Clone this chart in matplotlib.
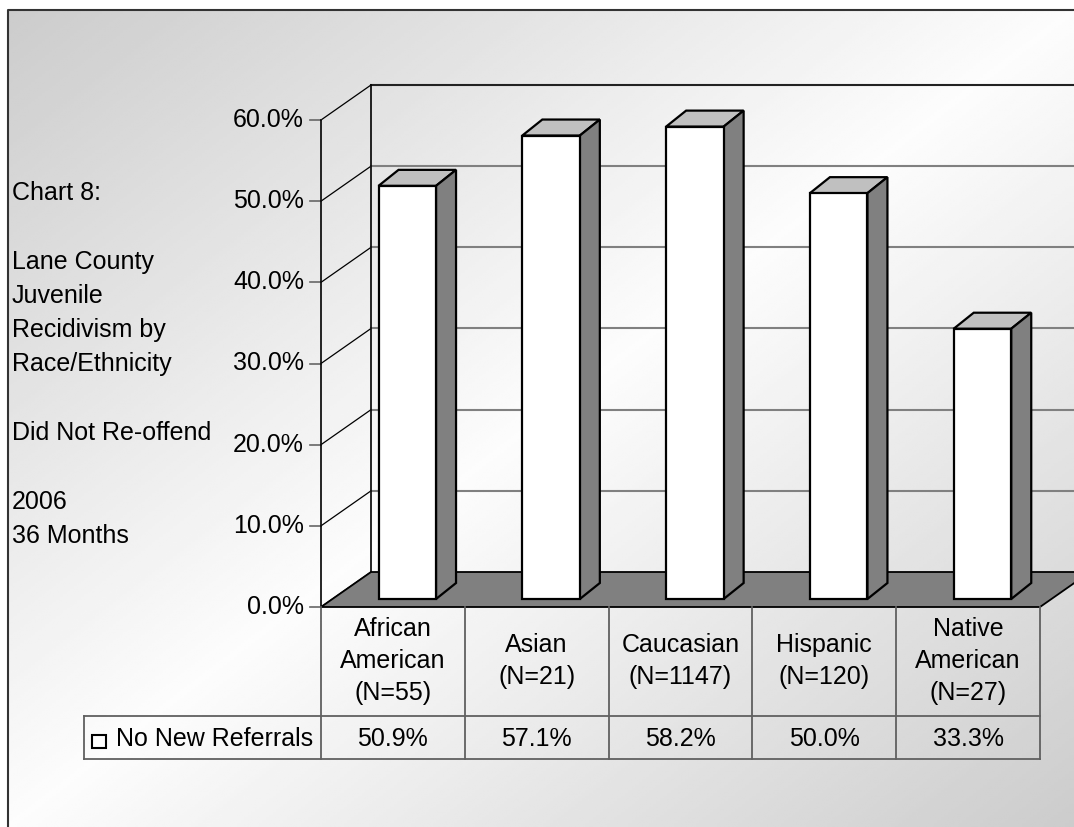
import numpy as np
import matplotlib.pyplot as plt
from matplotlib.patches import Polygon, Rectangle

plt.rcParams['font.family'] = ['Liberation Sans', 'DejaVu Sans']

categories = ['African\nAmerican\n(N=55)', 'Asian\n(N=21)', 'Caucasian\n(N=1147)',
              'Hispanic\n(N=120)', 'Native\nAmerican\n(N=27)']
values = [50.9, 57.1, 58.2, 50.0, 33.3]
value_labels = ['50.9%', '57.1%', '58.2%', '50.0%', '33.3%']
yticks = [0, 10, 20, 30, 40, 50, 60]
series_name = 'No New Referrals'
side_text = ['Chart 8:', '', 'Lane County', 'Juvenile', 'Recidivism by',
             'Race/Ethnicity', '', 'Did Not Re-offend', '', '2006', '36 Months']

W, H = 1074, 827
fig = plt.figure(figsize=(W / 100, H / 100), dpi=100)
fig.patch.set_facecolor('white')

# background with diagonal gradient and frame
bg = fig.add_axes([0, 0, 1, 1])
bg.set_xlim(0, W)
bg.set_ylim(H, 0)
bg.axis('off')
xx, yy = np.meshgrid(np.linspace(0, 1, 300), np.linspace(0, 1, 300))
t = (xx + yy) / 2
shade = 0.99 - 0.19 * np.abs(2 * t - 1)
bg.imshow(shade, cmap='gray', vmin=0, vmax=1, extent=[8, W, H, 10],
          aspect='auto', interpolation='bilinear', zorder=0)
bg.plot([8, 8, W], [H, 10, 10], color='#333333', lw=1.5, zorder=1)

fs = 18
for k, line in enumerate(side_text):
    if line:
        bg.text(12, 193 + 34.3 * k, line, fontsize=fs, ha='left', va='center')

# legend key in table
bg.add_patch(Rectangle((92, 735), 14, 13, facecolor='white', edgecolor='black', lw=1.5, zorder=3))
bg.text(116, 739, series_name, fontsize=fs, ha='left', va='center')

# main plot axes (front plane)
ax = fig.add_axes([321 / W, 1 - 607 / H, (1040 - 321) / W, (607 - 120) / H])
ax.set_xlim(0, 5)
ax.set_ylim(0, 60)
ax.axis('off')
ax.patch.set_visible(False)

px_x = (1040 - 321) / 5.0
px_y = (607 - 120) / 60.0
Dx, Dy = 50 / px_x, 35 / px_y          # floor depth
ddx, ddy = 20 / px_x, 16 / px_y        # bar depth
base = 8 / px_y
n = len(values)
ymax = yticks[-1]

# walls gridlines
for v in yticks:
    ax.plot([0, Dx], [v, v + Dy], color='black', lw=0.9, clip_on=False, zorder=1)
    if 0 < v < ymax:
        ax.plot([Dx, n + Dx], [v + Dy, v + Dy], color='#808080', lw=1.5,
                clip_on=False, zorder=1)
    ax.plot([-11 / px_x, 0], [v, v], color='#666666', lw=1.2, clip_on=False, zorder=1)
    ax.text(-17 / px_x, v, f'{v:.1f}%', fontsize=fs, ha='right', va='center')

ax.plot([Dx, n + Dx], [ymax + Dy, ymax + Dy], color='#222222', lw=1.5, clip_on=False, zorder=2)
ax.plot([0, 0], [0, ymax], color='black', lw=1.2, clip_on=False, zorder=2)
ax.plot([Dx, Dx], [Dy, ymax + Dy], color='black', lw=1.2, clip_on=False, zorder=2)

# floor
floor = Polygon([(0, 0), (n, 0), (n + Dx, Dy), (Dx, Dy)], closed=True,
                facecolor='#808080', edgecolor='black', lw=1.3, clip_on=False, zorder=2)
ax.add_patch(floor)

# bars
idx = np.arange(n)
bw = 0.4
fronts = ax.bar(idx + 0.6, values, width=bw, bottom=base, color='white',
                edgecolor='black', linewidth=1.6, zorder=5, clip_on=False)
for i, v in enumerate(values):
    x0 = i + 0.6 - bw / 2
    x1 = x0 + bw
    top = base + v
    ax.add_patch(Polygon([(x0, top), (x1, top), (x1 + ddx, top + ddy), (x0 + ddx, top + ddy)],
                         closed=True, facecolor='#c0c0c0', edgecolor='black', lw=1.6,
                         clip_on=False, zorder=4))
    ax.add_patch(Polygon([(x1, base), (x1, top), (x1 + ddx, top + ddy), (x1 + ddx, base + ddy)],
                         closed=True, facecolor='#808080', edgecolor='black', lw=1.6,
                         clip_on=False, zorder=4))

# data table
y_mid = -(716 - 607) / px_y
y_bot = -(759 - 607) / px_y
x_leg = -(321 - 84) / px_x
tc = '#606060'
for c in range(n + 1):
    ax.plot([c, c], [0, y_bot], color=tc, lw=1.3, clip_on=False, zorder=2)
ax.plot([x_leg, n], [y_mid, y_mid], color=tc, lw=1.3, clip_on=False, zorder=2)
ax.plot([x_leg, n], [y_bot, y_bot], color=tc, lw=1.3, clip_on=False, zorder=2)
ax.plot([x_leg, x_leg], [y_mid, y_bot], color=tc, lw=1.3, clip_on=False, zorder=2)

head_c = -(661 - 607) / px_y
step = 32 / px_y
for i, lab in enumerate(categories):
    lines = lab.split('\n')
    for j, line in enumerate(lines):
        off = (j - (len(lines) - 1) / 2) * step
        ax.text(i + 0.5, head_c - off, line, fontsize=fs, ha='center', va='center')
    ax.text(i + 0.5, -(739 - 607) / px_y, value_labels[i], fontsize=fs,
            ha='center', va='center')

fig.savefig('out.png', dpi=100)
